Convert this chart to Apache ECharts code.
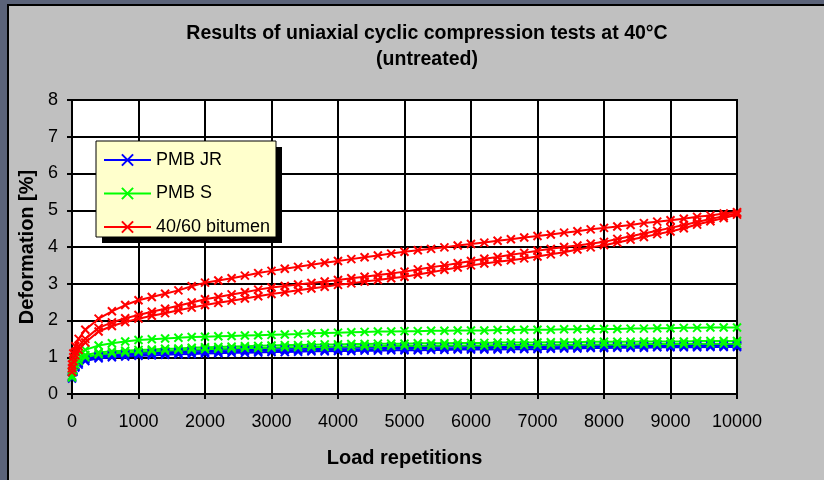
<!DOCTYPE html>
<html>
<head>
<meta charset="utf-8">
<script src="https://cdn.jsdelivr.net/npm/echarts@6/dist/echarts.min.js"></script>
<style>
html,body{margin:0;padding:0;width:824px;height:480px;overflow:hidden;background:#5b6379;}
#panel{position:absolute;left:7px;top:4px;width:840px;height:500px;background:#c0c0c0;border-left:2px solid #000;border-top:2px solid #000;}
#chart{position:absolute;left:0;top:0;width:824px;height:480px;}
</style>
</head>
<body>
<div id="panel"></div>
<div id="chart"></div>
<script>
const titleText = 'Results of uniaxial cyclic compression tests at 40°C\n(untreated)';
const xName = 'Load repetitions';
const yName = 'Deformation [%]';
const seriesNames = ['PMB JR', 'PMB S', '40/60 bitumen'];
const seriesColors = ['#0000ff', '#00ff00', '#ff0000'];

const loads = [0,20,50,100,200,400,600,800,1000,1200,1400,1600,1800,2000,2200,2400,2600,2800,3000,3200,3400,3600,3800,4000,4200,4400,4600,4800,5000,5200,5400,5600,5800,6000,6200,6400,6600,6800,7000,7200,7400,7600,7800,8000,8200,8400,8600,8800,9000,9200,9400,9600,9800,10000];

const jr1 = [0.42,0.60,0.72,0.80,0.90,0.97,1.00,1.02,1.04,1.05,1.07,1.08,1.09,1.10,1.11,1.12,1.12,1.13,1.14,1.14,1.15,1.16,1.16,1.17,1.17,1.18,1.18,1.19,1.19,1.19,1.20,1.20,1.21,1.21,1.21,1.21,1.22,1.22,1.22,1.23,1.24,1.24,1.25,1.25,1.26,1.26,1.26,1.27,1.27,1.27,1.27,1.28,1.28,1.28];
const jr2 = [0.48,0.66,0.78,0.88,0.98,1.05,1.08,1.10,1.12,1.13,1.15,1.16,1.18,1.19,1.20,1.21,1.21,1.22,1.23,1.24,1.24,1.25,1.25,1.26,1.26,1.27,1.27,1.27,1.28,1.28,1.28,1.29,1.29,1.29,1.29,1.30,1.30,1.30,1.30,1.31,1.31,1.31,1.32,1.32,1.32,1.32,1.32,1.33,1.33,1.33,1.33,1.33,1.33,1.33];
const jr3 = [0.45,0.63,0.75,0.84,0.94,1.01,1.04,1.06,1.08,1.09,1.11,1.12,1.13,1.14,1.15,1.16,1.17,1.17,1.18,1.19,1.19,1.20,1.20,1.21,1.21,1.22,1.22,1.23,1.23,1.23,1.24,1.24,1.24,1.25,1.25,1.25,1.25,1.26,1.26,1.26,1.27,1.27,1.28,1.28,1.29,1.29,1.29,1.29,1.30,1.30,1.30,1.30,1.30,1.31];
const s1 = [0.60,0.85,0.98,1.08,1.20,1.32,1.38,1.43,1.47,1.49,1.51,1.53,1.55,1.56,1.57,1.58,1.59,1.60,1.61,1.62,1.63,1.65,1.66,1.67,1.68,1.69,1.70,1.70,1.71,1.71,1.72,1.72,1.73,1.73,1.73,1.74,1.74,1.75,1.75,1.75,1.76,1.76,1.77,1.77,1.77,1.78,1.78,1.79,1.79,1.80,1.80,1.81,1.81,1.81];
const s2 = [0.50,0.75,0.88,0.97,1.06,1.13,1.16,1.18,1.20,1.21,1.23,1.24,1.26,1.27,1.28,1.29,1.30,1.31,1.32,1.33,1.33,1.34,1.35,1.35,1.36,1.36,1.37,1.37,1.37,1.38,1.38,1.38,1.39,1.39,1.39,1.40,1.40,1.40,1.40,1.41,1.41,1.41,1.42,1.42,1.42,1.42,1.43,1.43,1.43,1.43,1.44,1.44,1.44,1.44];
const s3 = [0.45,0.65,0.80,0.90,1.00,1.08,1.11,1.13,1.15,1.17,1.18,1.20,1.21,1.22,1.23,1.24,1.25,1.25,1.26,1.27,1.27,1.28,1.28,1.29,1.29,1.30,1.30,1.31,1.31,1.31,1.31,1.32,1.32,1.32,1.32,1.33,1.33,1.33,1.33,1.34,1.34,1.34,1.35,1.35,1.35,1.35,1.36,1.36,1.36,1.36,1.37,1.37,1.37,1.37];
const b1 = [0.80,1.10,1.30,1.50,1.75,2.05,2.25,2.42,2.55,2.64,2.73,2.82,2.93,3.03,3.09,3.15,3.22,3.29,3.35,3.41,3.46,3.52,3.57,3.62,3.67,3.72,3.77,3.82,3.87,3.91,3.95,3.99,4.04,4.08,4.12,4.17,4.21,4.26,4.30,4.34,4.39,4.43,4.48,4.52,4.56,4.60,4.65,4.69,4.73,4.77,4.82,4.86,4.91,4.95];
const b2 = [0.70,1.00,1.15,1.30,1.50,1.80,1.95,2.06,2.15,2.24,2.32,2.40,2.49,2.58,2.64,2.71,2.77,2.84,2.90,2.94,2.98,3.02,3.06,3.10,3.15,3.19,3.24,3.28,3.33,3.39,3.45,3.50,3.56,3.62,3.68,3.73,3.79,3.84,3.90,3.95,4.00,4.04,4.09,4.14,4.22,4.29,4.37,4.44,4.52,4.60,4.68,4.76,4.84,4.92];
const b3 = [0.60,0.90,1.05,1.20,1.40,1.70,1.85,1.96,2.05,2.13,2.20,2.28,2.35,2.42,2.48,2.54,2.60,2.66,2.72,2.77,2.82,2.87,2.92,2.97,3.01,3.06,3.10,3.15,3.19,3.25,3.31,3.38,3.44,3.50,3.55,3.60,3.64,3.69,3.74,3.80,3.86,3.93,3.99,4.05,4.12,4.20,4.27,4.35,4.42,4.51,4.61,4.70,4.79,4.88];

const groups = [[jr1, jr2, jr3], [s1, s2, s3], [b1, b2, b3]];

const xMark = 'path://M0,0L10,10M10,0L0,10';
const series = [];
groups.forEach((g, gi) => {
  g.forEach(vals => {
    series.push({
      name: seriesNames[gi],
      type: 'line',
      data: loads.map((x, i) => [x, vals[i]]),
      symbol: xMark,
      symbolSize: 8,
      showSymbol: true,
      lineStyle: { color: seriesColors[gi], width: 2 },
      itemStyle: { color: seriesColors[gi], borderColor: seriesColors[gi], borderWidth: 2 },
      emphasis: { disabled: true },
      animation: false
    });
  });
});

const chart = echarts.init(document.getElementById('chart'));
chart.setOption({
  backgroundColor: 'transparent',
  animation: false,
  title: {
    text: titleText,
    left: 422, top: 16, textAlign: 'center',
    textStyle: { fontFamily: 'Liberation Sans', fontSize: 19.5, fontWeight: 'bold', color: '#000', lineHeight: 26 }
  },
  graphic: [
    { type: 'rect', z: 50, shape: { x: 102, y: 147, width: 180, height: 96 }, style: { fill: '#000' } },
    { type: 'rect', z: 51, shape: { x: 96, y: 141, width: 180, height: 96 }, style: { fill: '#ffffcc', stroke: '#000', lineWidth: 1 } }
  ],
  legend: {
    data: seriesNames,
    orient: 'vertical',
    left: 103, top: 151, z: 60,
    padding: 0,
    itemWidth: 47, itemHeight: 14, itemGap: 15.5,
    textStyle: { fontFamily: 'Liberation Sans', fontSize: 18, color: '#000' },
    selectedMode: false
  },
  grid: {
    left: 72, right: 87, top: 100, bottom: 86,
    show: true, backgroundColor: '#fff', borderColor: '#000', borderWidth: 2
  },
  xAxis: {
    type: 'value', min: 0, max: 10000, interval: 1000,
    name: xName, nameLocation: 'middle', nameGap: 54,
    nameTextStyle: { fontFamily: 'Liberation Sans', fontSize: 20, fontWeight: 'bold', color: '#000' },
    axisLine: { show: true, onZero: false, lineStyle: { color: '#000', width: 2 } },
    axisTick: { show: true, inside: false, length: 5, lineStyle: { color: '#000', width: 2 } },
    axisLabel: { fontFamily: 'Liberation Sans', fontSize: 18, color: '#000', margin: 19, formatter: v => String(v) },
    splitLine: { show: true, lineStyle: { color: '#000', width: 2 } }
  },
  yAxis: {
    type: 'value', min: 0, max: 8, interval: 1,
    name: yName, nameLocation: 'middle', nameGap: 33,
    nameTextStyle: { fontFamily: 'Liberation Sans', fontSize: 20, fontWeight: 'bold', color: '#000' },
    axisLine: { show: true, lineStyle: { color: '#000', width: 2 } },
    axisTick: { show: true, inside: false, length: 5, lineStyle: { color: '#000', width: 2 } },
    axisLabel: { fontFamily: 'Liberation Sans', fontSize: 18, color: '#000', margin: 14 },
    splitLine: { show: true, lineStyle: { color: '#000', width: 2 } }
  },
  series: series
});
</script>
</body>
</html>
